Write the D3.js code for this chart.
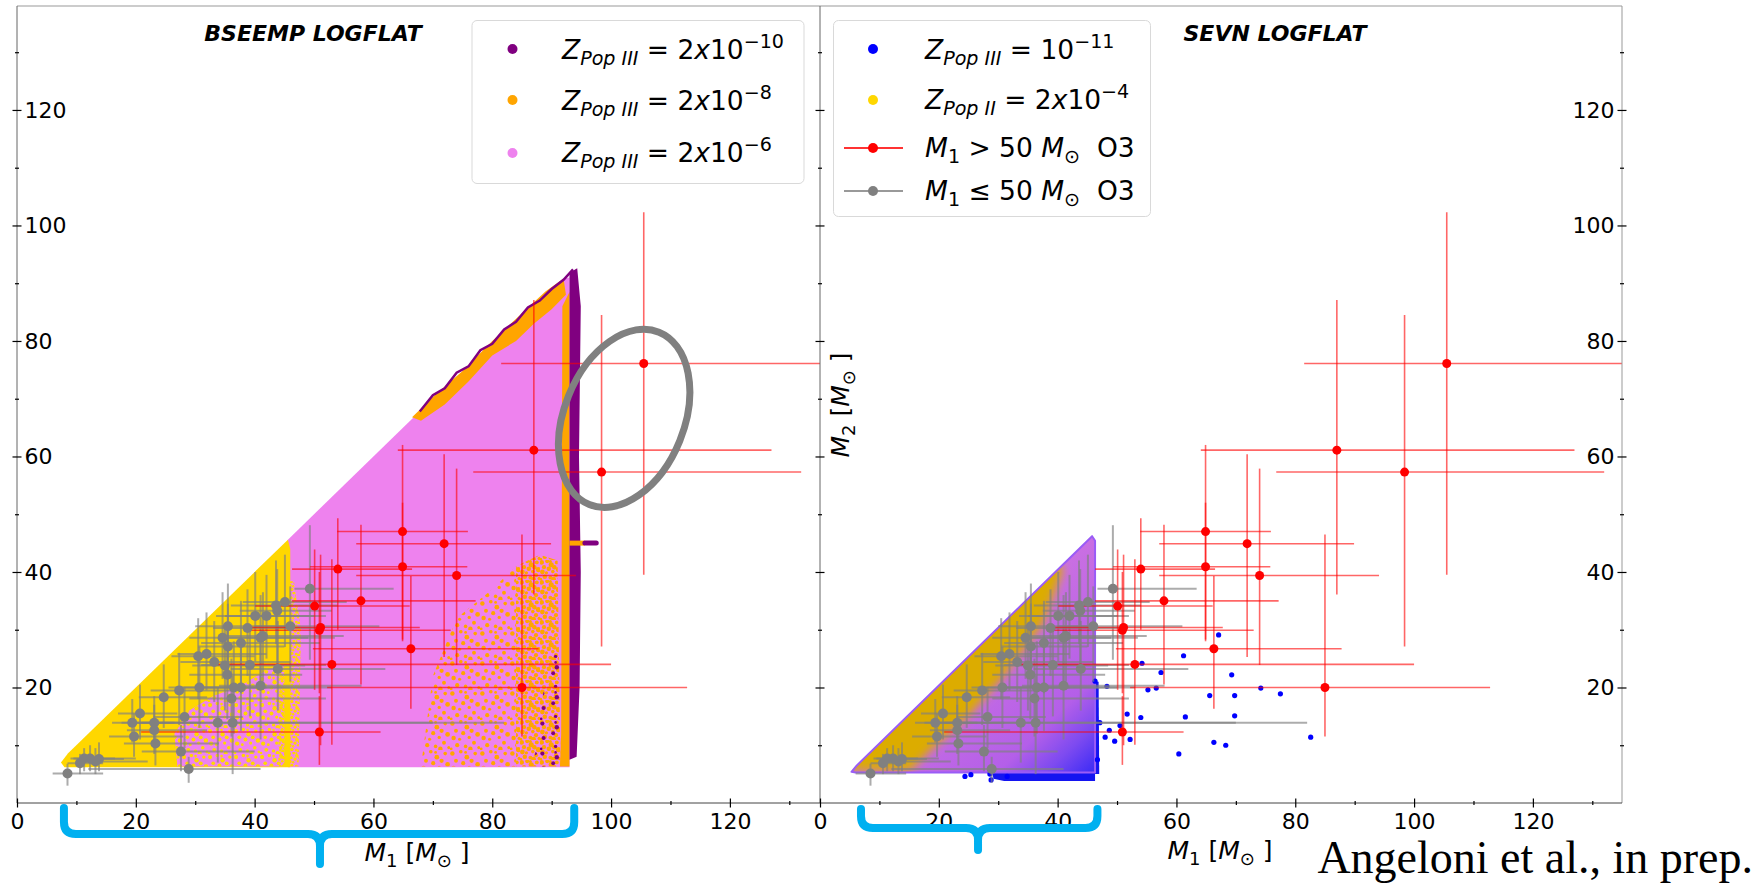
<!DOCTYPE html>
<html lang="en">
<head>
<meta charset="UTF-8">
<title>BSEEMP / SEVN LOGFLAT</title>
<script src="https://cdn.jsdelivr.net/npm/d3@7"></script>
<style>
  body { margin: 0; background: #fff; }
  text { white-space: pre; }
</style>
</head>
<body>
<svg id="chart" width="1758" height="886" font-family="DejaVu Sans, sans-serif"></svg>
<script>
// ---- ticks ----
const xMajor = [0, 20, 40, 60, 80, 100, 120];
const xMinor = [10, 30, 50, 70, 90, 110, 130];
const yMajor = [20, 40, 60, 80, 100, 120];
const yMinor = [10, 30, 50, 70, 90, 110, 130];

// ---- O3 events, M1 > 50 (red) ----
const redM1   = [105.5, 87.0, 98.4, 64.9, 71.9, 54.0, 64.9, 74.0, 57.9, 50.1, 51.1, 50.9, 66.3, 53.0, 85.0, 50.9];
const redM1Lo = [81.5, 64.1, 76.8, 53.9, 57.1, 46.3, 49.3, 57.1, 46.3, 40.1, 39.2, 39.2, 49.8, 33.0, 52.2, 20.9];
const redM1Hi = [140.0, 127.0, 132.0, 75.9, 89.9, 66.5, 75.8, 94.1, 77.2, 66.1, 67.8, 73.0, 87.8, 100.0, 112.8, 61.2];
const redM2   = [76.1, 61.1, 57.3, 47.0, 44.9, 40.5, 40.9, 39.4, 35.0, 34.1, 30.4, 29.9, 26.7, 24.0, 20.0, 12.3];
const redM2Lo = [39.5, 36.1, 27.1, 28.3, 25.3, 30.0, 28.0, 23.9, 20.5, 19.6, 10.0, 19.0, 16.3, 10.1, 11.5, 6.6];
const redM2Hi = [102.3, 87.1, 84.5, 62.0, 60.4, 49.3, 52.0, 57.9, 48.2, 43.9, 43.0, 40.0, 39.3, 42.2, 46.5, 18.5];

// ---- O3 events, M1 <= 50 (grey) ----
const greyM1   = [49.3, 45.1, 43.6, 43.8, 46.0, 40.1, 42.0, 38.8, 35.5, 34.6, 35.5, 37.7, 41.0, 41.4, 30.5, 31.9, 33.2, 35.0, 39.2, 35.4, 43.9, 27.3, 30.7, 36.5, 37.7, 41.0, 36.1, 24.7, 20.7, 28.2, 19.4, 23.1, 33.8, 36.3, 23.1, 19.7, 23.3, 27.6, 11.3, 12.3, 13.2, 13.8, 10.6, 8.5, 28.9];
const greyM1Lo = [46.7, 38.0, 36.0, 37.5, 40.0, 33.5, 35.0, 33.0, 30.0, 29.0, 30.5, 31.0, 35.0, 34.0, 26.0, 27.0, 27.5, 29.5, 31.0, 29.0, 36.0, 22.5, 25.5, 28.0, 31.0, 34.0, 29.0, 20.5, 17.0, 23.0, 16.0, 19.0, 21.0, 17.6, 18.5, 15.5, 18.0, 21.0, 9.0, 9.5, 10.0, 10.5, 8.5, 6.0, 12.0];
const greyM1Hi = [63.4, 55.5, 54.0, 53.0, 61.0, 50.0, 52.0, 50.5, 45.5, 49.0, 45.0, 51.0, 53.5, 55.0, 40.0, 42.0, 46.0, 48.5, 52.0, 48.0, 62.0, 36.5, 42.0, 53.0, 50.0, 58.0, 52.0, 32.0, 27.0, 38.0, 26.5, 31.0, 70.0, 82.0, 32.0, 28.0, 34.0, 40.0, 16.5, 20.0, 22.0, 18.0, 14.5, 14.5, 41.0];
const greyM2   = [37.1, 34.8, 34.2, 33.3, 30.6, 32.4, 32.4, 30.3, 30.6, 28.6, 27.1, 27.7, 28.6, 28.9, 25.4, 25.8, 24.4, 23.8, 23.9, 22.2, 23.2, 19.5, 20.0, 20.0, 20.0, 20.3, 18.1, 18.3, 15.5, 14.9, 13.9, 13.9, 13.9, 13.9, 12.6, 11.5, 10.3, 8.9, 7.7, 7.7, 7.2, 7.6, 6.9, 5.1, 5.9];
const greyM2Lo = [24.8, 27.0, 27.5, 24.0, 21.0, 24.5, 25.0, 22.0, 23.0, 21.5, 20.0, 19.0, 20.5, 21.0, 18.0, 19.5, 17.5, 16.0, 15.0, 14.5, 16.0, 13.5, 13.0, 12.0, 12.5, 11.0, 11.5, 13.0, 11.0, 9.5, 10.5, 10.0, 7.0, 5.0, 8.5, 8.0, 6.5, 5.5, 5.5, 5.5, 5.0, 5.5, 5.0, 3.0, 3.5];
const greyM2Hi = [48.1, 43.0, 42.0, 40.5, 37.5, 40.0, 39.5, 37.0, 38.0, 36.5, 34.5, 35.0, 36.0, 36.5, 32.0, 33.0, 31.5, 31.0, 30.0, 30.5, 31.5, 26.0, 27.0, 28.0, 27.5, 30.0, 25.0, 24.0, 20.5, 20.0, 18.0, 18.5, 20.0, 22.0, 17.0, 15.5, 14.5, 13.5, 9.5, 10.0, 9.5, 10.5, 8.5, 6.8, 8.0];

// ---- SEVN sparse Pop III systems outside the main triangle ----
const blueM1 = [67.1, 61.2, 54.2, 57.4, 69.3, 46.3, 48.3, 55.2, 56.6, 74.2, 77.5, 65.6, 69.8, 51.7, 54.0, 61.5, 69.8, 47.1, 48.7, 50.5, 48.0, 49.6, 52.2, 66.3, 68.3, 82.6, 60.4, 46.7, 24.4, 25.4, 28.8, 28.6, 31.5];
const blueM2 = [29.1, 25.5, 24.2, 22.6, 22.2, 21.1, 20.2, 19.6, 19.9, 19.9, 18.9, 18.6, 18.6, 15.4, 14.8, 14.9, 15.1, 13.9, 12.6, 13.4, 11.4, 10.7, 11.0, 10.5, 10.0, 11.4, 8.5, 7.5, 4.6, 4.9, 4.0, 5.0, 4.6];

// ---- BSEEMP population outlines (M1, M2) ----
const pinkL = [[45.6, 45.6], [67.0, 67.0], [92.0, 90.8], [93.0, 91.0], [93.0, 6.2], [45.6, 6.2]];
const yellowL = [[7.4, 7.0], [8.6, 8.6], [45.6, 45.6], [46.0, 44.0], [46.0, 6.2], [8.0, 6.2]];
const pinkInYellowL = [[27.0, 6.3], [26.5, 12.0], [29.0, 16.0], [33.0, 18.5], [38.0, 20.5], [42.0, 23.0], [45.0, 24.0], [45.0, 6.3]];
const yellowEdgeL = [[44.0, 6.3], [44.0, 38.0], [46.6, 38.5], [47.8, 30.0], [47.4, 6.3]];
const orangeSparseL = [[68.0, 6.3], [70.0, 22.0], [74.0, 32.0], [80.0, 37.0], [84.0, 41.0], [84.0, 6.3]];
const orangeDenseL = [[84.0, 6.3], [84.0, 41.0], [88.0, 43.0], [91.0, 42.0], [91.5, 6.3]];
const purpleSparseL = [[87.0, 6.3], [88.0, 16.0], [90.0, 26.0], [92.5, 30.0], [92.5, 6.3]];
const orangeTopL = [[66.5, 66.8], [70.0, 70.3], [75.0, 74.8], [80.0, 80.0], [85.0, 84.8], [89.0, 88.6], [92.0, 90.8], [92.4, 88.0], [90.0, 85.5], [87.0, 83.0], [84.0, 80.0], [80.0, 77.5], [76.0, 73.0], [72.0, 69.0], [68.0, 66.2]];
const orangeColL = [[91.6, 12.0], [91.8, 86.0], [93.0, 88.5], [93.0, 6.3], [91.4, 6.3]];
const purpleColL = [[93.0, 7.5], [93.0, 91.8], [94.3, 92.6], [94.9, 86.0], [94.6, 60.0], [94.9, 40.0], [94.7, 20.0], [94.2, 8.0]];
const purpleTopL = [[67.8, 67.8], [70.0, 70.6], [72.0, 71.8], [74.0, 74.5], [76.0, 75.6], [78.0, 78.4], [80.0, 79.5], [82.0, 82.0], [84.0, 83.3], [86.0, 85.8], [88.0, 87.0], [90.0, 89.0], [92.0, 90.6], [93.6, 92.4]];
const tailOrangeL = [[93.0, 45.0], [95.6, 45.0]];
const tailPurpleL = [[95.6, 45.0], [97.5, 45.0]];

// ---- SEVN population outlines ----
const triR = [[5.3, 5.4], [6.2, 6.5], [45.8, 46.2], [46.3, 45.4], [46.3, 5.3], [6.0, 5.3]];
const goldR = [[2.0, 5.8], [2.0, 9.0], [37.0, 44.0], [41.0, 40.5], [37.5, 31.0], [31.0, 22.0], [25.0, 15.0], [19.0, 9.5], [15.0, 5.4]];
const blueStripR = [[29.0, 5.3], [29.2, 4.2], [31.0, 3.8], [46.3, 3.8], [46.3, 5.3]];
const blueEdgeR = [[46.2, 21.0], [46.9, 21.0], [47.0, 5.0], [46.2, 5.0]];

// ---- annotation ranges on M1 (braces) and the circled events ----
const braceL = [7.9, 51.0, 93.8];
const braceR = [6.9, 26.6, 46.7];
const ringCentre = [102.2, 66.6];

const svg = d3.select("#chart");
const defs = svg.append("defs");

const xL = d3.scaleLinear().domain([0, 135]).range([17, 819]);
const xR = d3.scaleLinear().domain([0, 135]).range([820, 1622]);
const y = d3.scaleLinear().domain([0, 138]).range([803, 6]);

defs.append("clipPath").attr("id", "clipL").append("rect")
  .attr("x", xL(0)).attr("y", y(138)).attr("width", 820 - xL(0)).attr("height", y(0) - y(138));
defs.append("clipPath").attr("id", "clipR").append("rect")
  .attr("x", xR(0)).attr("y", y(138)).attr("width", xR(135) - xR(0)).attr("height", y(0) - y(138));

// speckle textures (pattern tiles, styling only)
const tileDots = [[2, 3, 1.6], [9, 1.5, 1.3], [14, 6, 1.7], [5, 9, 1.4], [11, 11, 1.5], [16, 14.5, 1.2],
  [3, 15, 1.6], [8, 16, 1.1], [13, 2, 1.0], [18, 9, 1.5], [21, 3, 1.3], [23, 12, 1.7], [20, 19, 1.4],
  [6, 21, 1.5], [13, 22, 1.3], [24, 23, 1.1], [1, 24, 1.0], [17, 24, 1.6]];
function speck(id, color, size, scale, every) {
  const p = defs.append("pattern").attr("id", id).attr("patternUnits", "userSpaceOnUse")
    .attr("width", size).attr("height", size);
  tileDots.filter((d, i) => i % every === 0)
    .forEach(d => p.append("circle").attr("cx", d[0] * size / 25).attr("cy", d[1] * size / 25)
      .attr("r", d[2] * scale).attr("fill", color));
}
speck("ySpeck", "#FFD700", 26, 1.3, 1);
speck("yDense", "#FFD700", 16, 1.1, 1);
speck("oSparse", "#FFA500", 30, 1.4, 1);
speck("oDense", "#FFA500", 20, 1.5, 1);
speck("pSparse", "#800080", 30, 1.3, 2);

const grad = defs.append("linearGradient").attr("id", "sevnGrad")
  .attr("x1", 0).attr("y1", 0).attr("x2", 1).attr("y2", 1);
[[0.5, "#c96fe2"], [0.8, "#b45fe9"], [0.9, "#7d4af0"], [1, "#3a2af6"]]
  .forEach(s => grad.append("stop").attr("offset", s[0]).attr("stop-color", s[1]));
defs.append("filter").attr("id", "soft").attr("x", "-20%").attr("y", "-20%")
  .attr("width", "140%").attr("height", "140%")
  .append("feGaussianBlur").attr("stdDeviation", 5);
defs.append("clipPath").attr("id", "clipTri").append("path")
  .attr("d", d3.line().x(d => xR(d[0])).y(d => y(d[1]))(triR) + "Z");

function area(g, x, pts) {
  return g.append("path").attr("d", d3.line().x(d => x(d[0])).y(d => y(d[1]))(pts) + "Z");
}
function poly(g, x, pts) {
  return g.append("path").attr("fill", "none").attr("d", d3.line().x(d => x(d[0])).y(d => y(d[1]))(pts));
}

// ---------- left panel clouds ----------
const gL = svg.append("g").attr("clip-path", "url(#clipL)");
area(gL, xL, pinkL).attr("fill", "#EE82EE");
area(gL, xL, yellowL).attr("fill", "#FFD700");
area(gL, xL, pinkInYellowL).attr("fill", "#EE82EE");
area(gL, xL, pinkInYellowL).attr("fill", "url(#ySpeck)");
area(gL, xL, yellowEdgeL).attr("fill", "url(#yDense)");
area(gL, xL, orangeSparseL).attr("fill", "url(#oSparse)");
area(gL, xL, orangeDenseL).attr("fill", "url(#oDense)");
area(gL, xL, purpleSparseL).attr("fill", "url(#pSparse)");
area(gL, xL, orangeTopL).attr("fill", "#FFA500");
area(gL, xL, orangeColL).attr("fill", "#FFA500");
area(gL, xL, purpleColL).attr("fill", "#800080");
poly(gL, xL, purpleTopL).attr("stroke", "#800080").attr("stroke-width", 2.5);
poly(gL, xL, tailOrangeL).attr("stroke", "#FFA500").attr("stroke-width", 5);
poly(gL, xL, tailPurpleL).attr("stroke", "#800080").attr("stroke-width", 5).attr("stroke-linecap", "round");

// ---------- right panel clouds ----------
const gR = svg.append("g").attr("clip-path", "url(#clipR)");
area(gR, xR, blueStripR).attr("fill", "#1414f0");
area(gR, xR, blueEdgeR).attr("fill", "#1414f0");
area(gR, xR, triR).attr("fill", "url(#sevnGrad)");
gR.append("g").attr("clip-path", "url(#clipTri)")
  .append("path").attr("filter", "url(#soft)").attr("fill", "#dcac00")
  .attr("d", d3.line().x(d => xR(d[0])).y(d => y(d[1]))(goldR) + "Z");
area(gR, xR, triR).attr("fill", "none").attr("stroke", "#9a5cf6").attr("stroke-width", 2).attr("stroke-linejoin", "round");
gR.selectAll("circle.pop3").data(blueM1).join("circle").attr("class", "pop3")
  .attr("cx", d => xR(d)).attr("cy", (d, i) => y(blueM2[i])).attr("r", 2.6).attr("fill", "#0000ff");

// ---------- O3 events, drawn in both panels ----------
function events(g, x) {
  const grey = d3.range(greyM1.length), red = d3.range(redM1.length);
  const eb = g.append("g").attr("stroke", "#808080").attr("stroke-opacity", 0.65).attr("stroke-width", 2);
  eb.selectAll(".gh").data(grey).join("line").attr("class", "gh").attr("x1", i => x(greyM1Lo[i])).attr("x2", i => x(greyM1Hi[i]))
    .attr("y1", i => y(greyM2[i])).attr("y2", i => y(greyM2[i]));
  eb.selectAll(".gv").data(grey).join("line").attr("class", "gv").attr("x1", i => x(greyM1[i])).attr("x2", i => x(greyM1[i]))
    .attr("y1", i => y(greyM2Lo[i])).attr("y2", i => y(greyM2Hi[i]));
  const er = g.append("g").attr("stroke", "#ff0000").attr("stroke-opacity", 0.6).attr("stroke-width", 1.6);
  er.selectAll(".rh").data(red).join("line").attr("class", "rh").attr("x1", i => x(redM1Lo[i])).attr("x2", i => x(redM1Hi[i]))
    .attr("y1", i => y(redM2[i])).attr("y2", i => y(redM2[i]));
  er.selectAll(".rv").data(red).join("line").attr("class", "rv").attr("x1", i => x(redM1[i])).attr("x2", i => x(redM1[i]))
    .attr("y1", i => y(redM2Lo[i])).attr("y2", i => y(redM2Hi[i]));
  g.append("g").selectAll("circle").data(grey).join("circle")
    .attr("cx", i => x(greyM1[i])).attr("cy", i => y(greyM2[i])).attr("r", 5).attr("fill", "#808080");
  g.append("g").selectAll("circle").data(red).join("circle")
    .attr("cx", i => x(redM1[i])).attr("cy", i => y(redM2[i])).attr("r", 4.5).attr("fill", "#ff0000");
}
events(gL, xL);
events(gR, xR);

// circled events
gL.append("ellipse")
  .attr("transform", `translate(${xL(ringCentre[0])},${y(ringCentre[1])}) rotate(22)`)
  .attr("rx", 60).attr("ry", 93).attr("fill", "none").attr("stroke", "#808080").attr("stroke-width", 7);

// ---------- frames & axes ----------
const frame = svg.append("g").attr("fill", "none");
frame.append("line").attr("x1", xL(0)).attr("x2", xR(135)).attr("y1", y(138)).attr("y2", y(138)).attr("stroke", "#999");
frame.append("line").attr("x1", xR(135)).attr("x2", xR(135)).attr("y1", y(138)).attr("y2", y(0)).attr("stroke", "#999");
frame.append("line").attr("x1", xR(0)).attr("x2", xR(0)).attr("y1", y(138)).attr("y2", y(0)).attr("stroke", "#666");
frame.append("line").attr("x1", xL(0)).attr("x2", xL(0)).attr("y1", y(138)).attr("y2", y(0)).attr("stroke", "#666");
frame.append("line").attr("x1", xL(0)).attr("x2", xR(135)).attr("y1", y(0)).attr("y2", y(0)).attr("stroke", "#444");

function styleAxis(g, horiz, len) {
  g.select(".domain").remove();
  g.selectAll(".tick line").attr("stroke", "#000").attr("stroke-width", 1.2)
    .attr(horiz ? "y1" : "x1", -len).attr(horiz ? "y2" : "x2", len);
  g.attr("font-size", 22).attr("font-family", "DejaVu Sans, sans-serif");
  g.selectAll("text").attr("fill", "#000");
}
function xAxes(x) {
  svg.append("g").attr("transform", `translate(0,${y(0)})`)
    .call(d3.axisBottom(x).tickValues(xMajor).tickSize(4.5).tickPadding(6))
    .call(g => styleAxis(g, true, 4.5));
  svg.append("g").attr("transform", `translate(0,${y(0)})`)
    .call(d3.axisBottom(x).tickValues(xMinor).tickSize(2).tickFormat(""))
    .call(g => styleAxis(g, true, 2));
}
xAxes(xL);
xAxes(xR);

function yAxis(xpos, maker, labels) {
  svg.append("g").attr("transform", `translate(${xpos},0)`)
    .call(maker(y).tickValues(yMajor).tickSize(4.5).tickPadding(labels ? 3 : 0).tickFormat(labels ? d3.format("d") : ""))
    .call(g => styleAxis(g, false, 4.5));
  svg.append("g").attr("transform", `translate(${xpos},0)`)
    .call(maker(y).tickValues(yMinor).tickSize(2).tickFormat(""))
    .call(g => styleAxis(g, false, 2));
}
yAxis(xL(0), d3.axisRight, true);
yAxis(xR(0), d3.axisRight, false);
yAxis(xR(135), d3.axisLeft, true);

// ---------- math-like text ----------
function mathText(g, x, yy, parts, fs) {
  const t = g.append("text").attr("x", x).attr("y", yy).attr("font-size", fs).attr("fill", "#000");
  let off = 0;
  parts.forEach(p => {
    const target = p.sup ? -fs * 0.42 : p.sub ? fs * 0.24 : 0;
    t.append("tspan").attr("dy", target - off)
      .attr("font-size", (p.sup || p.sub) ? fs * 0.72 : fs)
      .attr("font-style", p.it ? "italic" : "normal").text(p.t);
    off = target;
  });
  return t;
}
const zLabel = (pop, mult, exp) => mult
  ? [{ t: "Z", it: 1 }, { t: pop, it: 1, sub: 1 }, { t: " = 2" }, { t: "x", it: 1 }, { t: "10" }, { t: exp, sup: 1 }]
  : [{ t: "Z", it: 1 }, { t: pop, it: 1, sub: 1 }, { t: " = 10" }, { t: exp, sup: 1 }];
const mLabel = rel => [{ t: "M", it: 1 }, { t: "1", sub: 1 }, { t: " " + rel + " 50 " }, { t: "M", it: 1 }, { t: "⊙", sub: 1 }, { t: "  O3" }];
const massLabel = n => [{ t: "M", it: 1 }, { t: n, sub: 1 }, { t: " [" }, { t: "M", it: 1 }, { t: "⊙", sub: 1 }, { t: " ]" }];

// titles
svg.append("text").attr("x", 313).attr("y", 41).attr("text-anchor", "middle").attr("font-size", 22)
  .attr("font-weight", "bold").attr("font-style", "italic").text("BSEEMP LOGFLAT");
svg.append("text").attr("x", 1275).attr("y", 41).attr("text-anchor", "middle").attr("font-size", 22)
  .attr("font-weight", "bold").attr("font-style", "italic").text("SEVN LOGFLAT");

// legends
const legL = svg.append("g");
legL.append("rect").attr("x", 472).attr("y", 20.5).attr("width", 332).attr("height", 163).attr("rx", 5)
  .attr("fill", "#fff").attr("fill-opacity", 0.85).attr("stroke", "#d9d9d9");
[["#800080", 49, 59, zLabel("Pop III", true, "−10")],
 ["#FFA500", 100, 110, zLabel("Pop III", true, "−8")],
 ["#EE82EE", 153, 162, zLabel("Pop III", true, "−6")]].forEach(r => {
  legL.append("circle").attr("cx", 512.5).attr("cy", r[1]).attr("r", 5).attr("fill", r[0]);
  mathText(legL, 562, r[2], r[3], 26.5);
});

const legR = svg.append("g");
legR.append("rect").attr("x", 833.5).attr("y", 20.5).attr("width", 317).attr("height", 196).attr("rx", 5)
  .attr("fill", "#fff").attr("fill-opacity", 0.85).attr("stroke", "#d9d9d9");
legR.append("circle").attr("cx", 873).attr("cy", 49).attr("r", 5).attr("fill", "#0000ff");
mathText(legR, 925, 59, zLabel("Pop III", false, "−11"), 26.5);
legR.append("circle").attr("cx", 873).attr("cy", 100).attr("r", 5).attr("fill", "#FFD700");
mathText(legR, 925, 109, zLabel("Pop II", true, "−4"), 26.5);
[["#ff0000", 148, 157, ">"], ["#808080", 191, 200, "≤"]].forEach(r => {
  legR.append("line").attr("x1", 844).attr("x2", 903).attr("y1", r[1]).attr("y2", r[1])
    .attr("stroke", r[0]).attr("stroke-width", 2).attr("stroke-opacity", 0.8);
  legR.append("circle").attr("cx", 873).attr("cy", r[1]).attr("r", 5).attr("fill", r[0]);
  mathText(legR, 925, r[2], mLabel(r[3]), 26.5);
});

// axis labels
mathText(svg, 417, 861, massLabel("1"), 25).attr("text-anchor", "middle");
mathText(svg, 1220, 859, massLabel("1"), 25).attr("text-anchor", "middle");
mathText(svg, 0, 0, massLabel("2"), 25).attr("text-anchor", "middle")
  .attr("transform", "translate(849,405) rotate(-90)");

// braces under the M1 axis
function brace(x, b, top, bar, tip) {
  const [a, m, c] = b.map(x), r = 12;
  const p = d3.path();
  p.moveTo(a, top); p.lineTo(a, bar - r); p.quadraticCurveTo(a, bar, a + r, bar);
  p.lineTo(m - r, bar); p.quadraticCurveTo(m, bar, m, bar + r); p.lineTo(m, tip);
  p.moveTo(m, bar + r); p.quadraticCurveTo(m, bar, m + r, bar);
  p.lineTo(c - r, bar); p.quadraticCurveTo(c, bar, c, bar - r); p.lineTo(c, top);
  svg.append("path").attr("d", p.toString()).attr("fill", "none").attr("stroke", "#00b0f0")
    .attr("stroke-width", 8).attr("stroke-linecap", "round").attr("stroke-linejoin", "round");
}
brace(xL, braceL, 808, 834, 864);
brace(xR, braceR, 809, 828, 850);

svg.append("text").attr("x", 1753).attr("y", 873).attr("text-anchor", "end")
  .attr("font-family", "Liberation Serif, serif").attr("font-size", 46).text("Angeloni et al., in prep.");
</script>
</body>
</html>
